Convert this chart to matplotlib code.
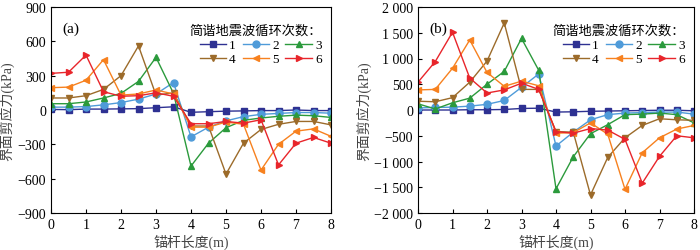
"""简谐地震波循环次数对界面剪应力分布的影响 (a)(b) 两图。"""

import matplotlib

matplotlib.use("Agg")
import matplotlib.pyplot as plt  # noqa: E402
from matplotlib.ticker import FuncFormatter  # noqa: E402

plt.rcParams["font.family"] = ["Liberation Serif", "Noto Sans CJK SC"]
plt.rcParams["axes.unicode_minus"] = True

x = [0, 0.5, 1, 1.5, 2, 2.5, 3, 3.5, 4, 4.5, 5, 5.5, 6, 6.5, 7, 7.5, 8]
labels = ["1", "2", "3", "4", "5", "6"]

# (a) 界面剪应力 kPa
a1 = [5, 3, 8, 8, 10, 12, 20, 28, -20, -15, -10, -8, -5, -5, 0, -5, -5]
a2 = [25, 25, 30, 45, 65, 95, 140, 240, -235, -150, -95, -58, -38, -30, -22, -22, -28]
a3 = [55, 55, 70, 105, 145, 250, 460, 145, -490, -290, -155, -90, -70, -55, -45, -50, -65]
a4 = [105, 105, 125, 180, 300, 560, 130, 150, -140, -140, -560, -290, -170, -125, -100, -100, -130]
a5 = [195, 200, 260, 440, 130, 140, 175, 140, -150, -150, -105, -125, -525, -300, -185, -165, -230]
a6 = [320, 330, 480, 160, 120, 125, 150, 120, -120, -120, -100, -115, -85, -480, -290, -240, -290]

# (b) 界面剪应力 kPa
b1 = [0, 0, 0, 5, 5, 10, 30, 35, -40, -35, -25, -20, -15, -10, -5, -5, -15]
b2 = [40, 50, 55, 75, 110, 185, 440, 700, -700, -430, -190, -90, -60, -50, -40, -40, -80]
b3 = [120, 20, 140, 230, 500, 750, 1390, 770, -1530, -910, -460, -285, -90, -80, -60, -90, -250]
b4 = [170, 160, 240, 540, 950, 1690, 400, 400, -420, -430, -1650, -920, -540, -300, -170, -190, -200]
b5 = [390, 400, 810, 1360, 730, 460, 560, 470, -450, -440, -250, -470, -1540, -830, -540, -370, -300]
b6 = [540, 940, 1510, 620, 330, 390, 520, 400, -420, -450, -360, -390, -570, -1420, -900, -500, -540]

COLORS = ["#2e3192", "#4f9bd9", "#2b9a3c", "#9c6b2a", "#f7811f", "#e8252b"]
MARKERS = ["s", "o", "^", "v", "<", ">"]
LEGEND_ORDER = [0, 3, 1, 4, 2, 5]  # 行優先 (1 2 3 / 4 5 6) に並べ替え


def _fmt_thousands(v, _pos):
    s = f"{abs(int(round(v))):,}".replace(",", " ")
    return ("\u2212" + s) if v < 0 else s


def _fmt_plain(v, _pos):
    return ("\u2212" + str(abs(int(v)))) if v < 0 else str(int(v))


def draw(ax, series, ylim, ystep, tag, fmt):
    for ys, lab, c, m in zip(series, labels, COLORS, MARKERS):
        ax.plot(x, ys, color=c, marker=m, markersize=5, linewidth=1.0, label=lab)
    ax.set_xlim(0, 8)
    ax.set_ylim(-ylim, ylim)
    ax.set_xticks(range(9))
    ax.set_yticks(range(-ylim, ylim + 1, ystep))
    ax.yaxis.set_major_formatter(FuncFormatter(fmt))
    ax.tick_params(direction="in", labelsize=10, length=3)
    ax.set_xlabel("锚杆长度(m)", fontsize=10, color="#444444", labelpad=2)
    ax.set_ylabel("界面剪应力(kPa)", fontsize=10, color="#444444", labelpad=2)
    ax.text(0.04, 0.93, tag, transform=ax.transAxes, fontsize=11, va="top")
    handles, labs = ax.get_legend_handles_labels()
    leg = ax.legend(
        [handles[i] for i in LEGEND_ORDER],
        [labs[i] for i in LEGEND_ORDER],
        title="简谐地震波循环次数：",
        ncol=3,
        loc="upper right",
        bbox_to_anchor=(1.0, 0.96),
        frameon=False,
        fontsize=9.5,
        title_fontsize=9.5,
        handlelength=2.0,
        columnspacing=0.5,
        handletextpad=0.25,
        labelspacing=0.15,
        borderpad=0.2,
    )
    leg._legend_box.align = "right"


fig = plt.figure(figsize=(7.0, 2.51), dpi=100)
ax_a = fig.add_axes([51 / 700, 1 - 214 / 251, 280 / 700, 206 / 251])
ax_b = fig.add_axes([418 / 700, 1 - 214 / 251, 276 / 700, 206 / 251])

draw(ax_a, [a1, a2, a3, a4, a5, a6], 900, 300, "(a)", _fmt_plain)
draw(ax_b, [b1, b2, b3, b4, b5, b6], 2000, 500, "(b)", _fmt_thousands)

fig.savefig("out.png", dpi=100)
